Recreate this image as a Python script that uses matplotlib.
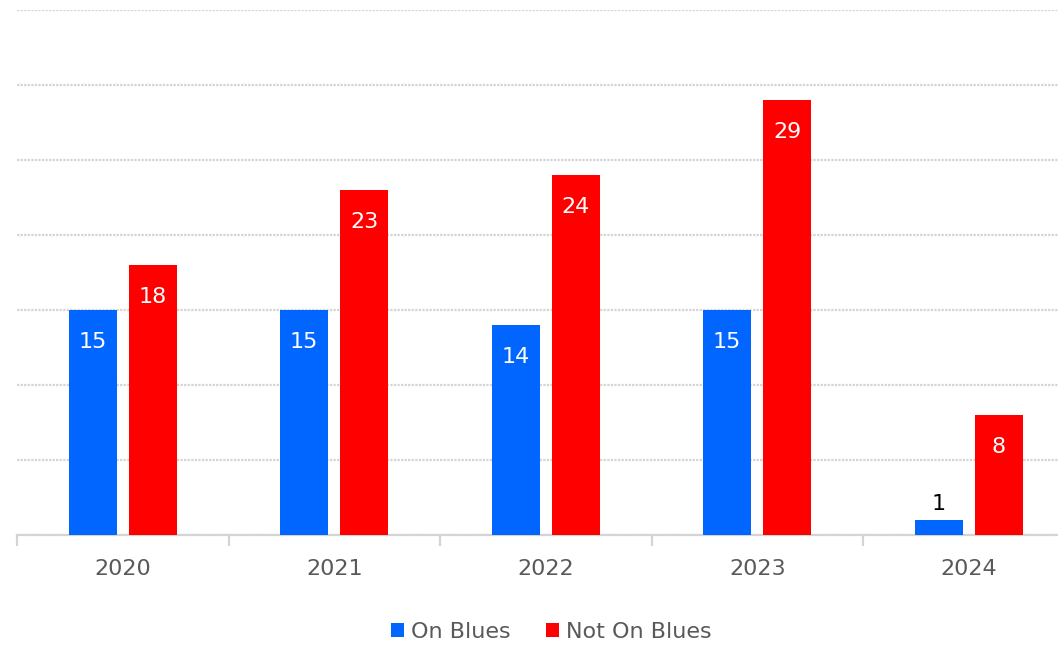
import numpy as np
import matplotlib.pyplot as plt

years = ["2020", "2021", "2022", "2023", "2024"]
on_blues = [15, 15, 14, 15, 1]
not_on_blues = [18, 23, 24, 29, 8]

fig = plt.figure(figsize=(10.58, 6.47), dpi=100)
ax = fig.add_axes([17 / 1058, 112 / 647, 1057.5 / 1058, 525 / 647])

x = np.arange(len(years))
w = 0.227
off = 0.142
b1 = ax.bar(x - off, on_blues, w, color="#0066FF", label="On Blues", zorder=3)
b2 = ax.bar(x + off, not_on_blues, w, color="#FF0000", label="Not On Blues", zorder=3)

ax.set_xlim(-0.5, 4.5)
ax.set_ylim(0, 35)
ax.set_yticks(range(0, 36, 5))
ax.yaxis.grid(True, color="#d4d4d4", linewidth=1.6, linestyle=(0, (1, 0.6)), zorder=0)
ax.tick_params(axis="y", left=False, labelleft=False)

for s in ["top", "right", "left"]:
    ax.spines[s].set_visible(False)
ax.spines["bottom"].set_color("#d4d4d4")
ax.spines["bottom"].set_linewidth(1.6)

ax.set_xticks(x)
ax.set_xticklabels(years, fontsize=16, color="#595959")
ax.tick_params(axis="x", length=0, pad=17)
ax.set_xticks(np.arange(-0.5, 5, 1), minor=True)
ax.tick_params(axis="x", which="minor", length=8, width=1.6, color="#d4d4d4")

for bars in (b1, b2):
    for r in bars:
        h = r.get_height()
        cx = r.get_x() + r.get_width() / 2
        if h >= 3:
            ax.annotate(str(int(h)), (cx, h), xytext=(0, -32), textcoords="offset pixels",
                        ha="center", va="center", color="white", fontsize=16)
        else:
            ax.annotate(str(int(h)), (cx, h), xytext=(0, 16), textcoords="offset pixels",
                        ha="center", va="center", color="black", fontsize=16)

fig.legend(loc="center", bbox_to_anchor=(551 / 1058, 1 - 632 / 647), ncol=2, frameon=False,
           fontsize=16, labelcolor="#595959", handlelength=0.6, handleheight=0.6,
           handletextpad=0.3, columnspacing=1.6)

fig.savefig("out.png", dpi=100)
